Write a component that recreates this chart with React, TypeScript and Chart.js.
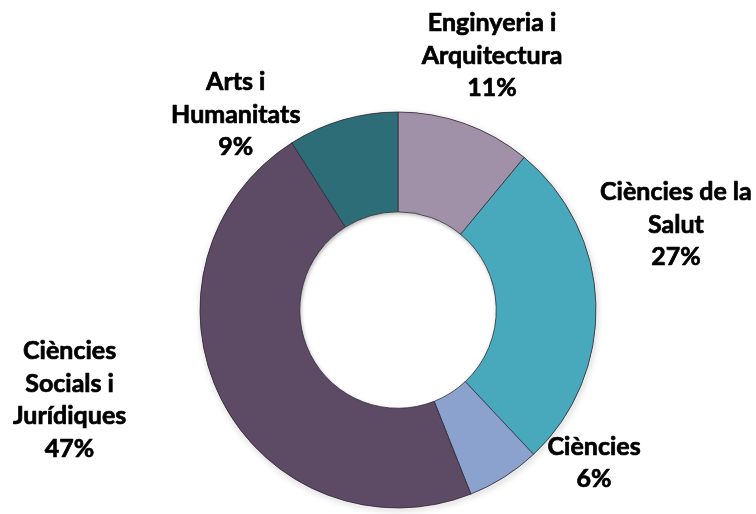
import React, { useEffect, useRef } from "react";
import { Chart, registerables } from "chart.js";

Chart.register(...registerables);

const categories = [
  "Enginyeria i Arquitectura",
  "Ciències de la Salut",
  "Ciències",
  "Ciències Socials i Jurídiques",
  "Arts i Humanitats",
];
const categoryLines = [
  ["Enginyeria i", "Arquitectura"],
  ["Ciències de la", "Salut"],
  ["Ciències"],
  ["Ciències", "Socials i", "Jurídiques"],
  ["Arts i", "Humanitats"],
];
const percentages = [11, 27, 6, 47, 9];
const sliceColors = ["#a091a9", "#49a9bc", "#8ba2cf", "#5d4a64", "#2c6d78"];

// label offsets (px) from the slice's outer mid-point
const labelOffsets = [
  [27, -69],
  [80, -80],
  [90, -15],
  [-152, -1],
  [-107, -6],
];

const labelPlugin = {
  id: "outerLabels",
  afterDatasetsDraw(chart: any) {
    const ctx = chart.ctx;
    const meta = chart.getDatasetMeta(0);
    ctx.save();
    ctx.fillStyle = "#000";
    ctx.strokeStyle = "#000";
    ctx.lineWidth = 0.7;
    ctx.lineJoin = "round";
    ctx.font = "bold 25px Lato";
    ctx.textAlign = "center";
    ctx.textBaseline = "alphabetic";
    const lh = 32.5;
    meta.data.forEach((arc: any, i: number) => {
      const p = arc.getProps(["x", "y", "startAngle", "endAngle", "outerRadius"], true);
      const mid = (p.startAngle + p.endAngle) / 2;
      const ax = p.x + Math.cos(mid) * p.outerRadius + labelOffsets[i][0];
      const ay = p.y + Math.sin(mid) * p.outerRadius + labelOffsets[i][1];
      const lines = [...categoryLines[i], percentages[i] + "%"];
      const n = lines.length;
      lines.forEach((t, j) => {
        const y = ay + 9 + (j - (n - 1) / 2) * lh;
        ctx.fillText(t, ax, y);
        ctx.strokeText(t, ax, y);
      });
    });
    ctx.restore();
  },
};

const shadowPlugin = {
  id: "ringShadow",
  beforeDatasetsDraw(chart: any) {
    const meta = chart.getDatasetMeta(0);
    const arc = meta.data[0];
    if (!arc) return;
    const p = arc.getProps(["x", "y", "outerRadius", "innerRadius"], true);
    const ctx = chart.ctx;
    ctx.save();
    ctx.beginPath();
    ctx.arc(p.x, p.y, p.outerRadius - 1, 0, Math.PI * 2);
    ctx.shadowColor = "rgba(0,0,0,0.35)";
    ctx.shadowBlur = 6;
    ctx.shadowOffsetX = 1;
    ctx.shadowOffsetY = 2;
    ctx.strokeStyle = "#555";
    ctx.lineWidth = 2;
    ctx.stroke();
    ctx.restore();
  },
  afterDatasetsDraw(chart: any) {
    // subtle inner shadow along the hole edge
    const meta = chart.getDatasetMeta(0);
    const arc = meta.data[0];
    if (!arc) return;
    const p = arc.getProps(["x", "y", "innerRadius"], true);
    const ctx = chart.ctx;
    ctx.save();
    ctx.beginPath();
    ctx.arc(p.x, p.y, p.innerRadius, 0, Math.PI * 2);
    ctx.clip();
    ctx.beginPath();
    ctx.arc(p.x, p.y, p.innerRadius + 4, 0, Math.PI * 2);
    ctx.shadowColor = "rgba(0,0,0,0.45)";
    ctx.shadowBlur = 5;
    ctx.shadowOffsetX = 1;
    ctx.shadowOffsetY = 2;
    ctx.strokeStyle = "#444";
    ctx.lineWidth = 6;
    ctx.stroke();
    ctx.restore();
  },
};

export default function App() {
  const ref = useRef<HTMLCanvasElement>(null);
  useEffect(() => {
    if (!ref.current) return;
    const chart = new Chart(ref.current, {
      type: "doughnut",
      data: {
        labels: categories,
        datasets: [
          {
            data: percentages,
            backgroundColor: sliceColors,
            borderColor: "rgba(45,40,50,0.75)",
            borderWidth: 1,
          },
        ],
      },
      options: {
        animation: false,
        responsive: false,
        maintainAspectRatio: false,
        radius: 198,
        cutout: 98,
        layout: { padding: { left: 200, right: 160, top: 112, bottom: 6 } },
        plugins: {
          legend: { display: false },
          tooltip: { enabled: false },
        },
      },
      plugins: [shadowPlugin, labelPlugin],
    });
    return () => chart.destroy();
  }, []);
  return (
    <div style={{ position: "fixed", left: 0, top: 0, width: 756, height: 514, background: "#fff" }}>
      <canvas ref={ref} width={756} height={514} style={{ width: 756, height: 514 }} />
    </div>
  );
}
